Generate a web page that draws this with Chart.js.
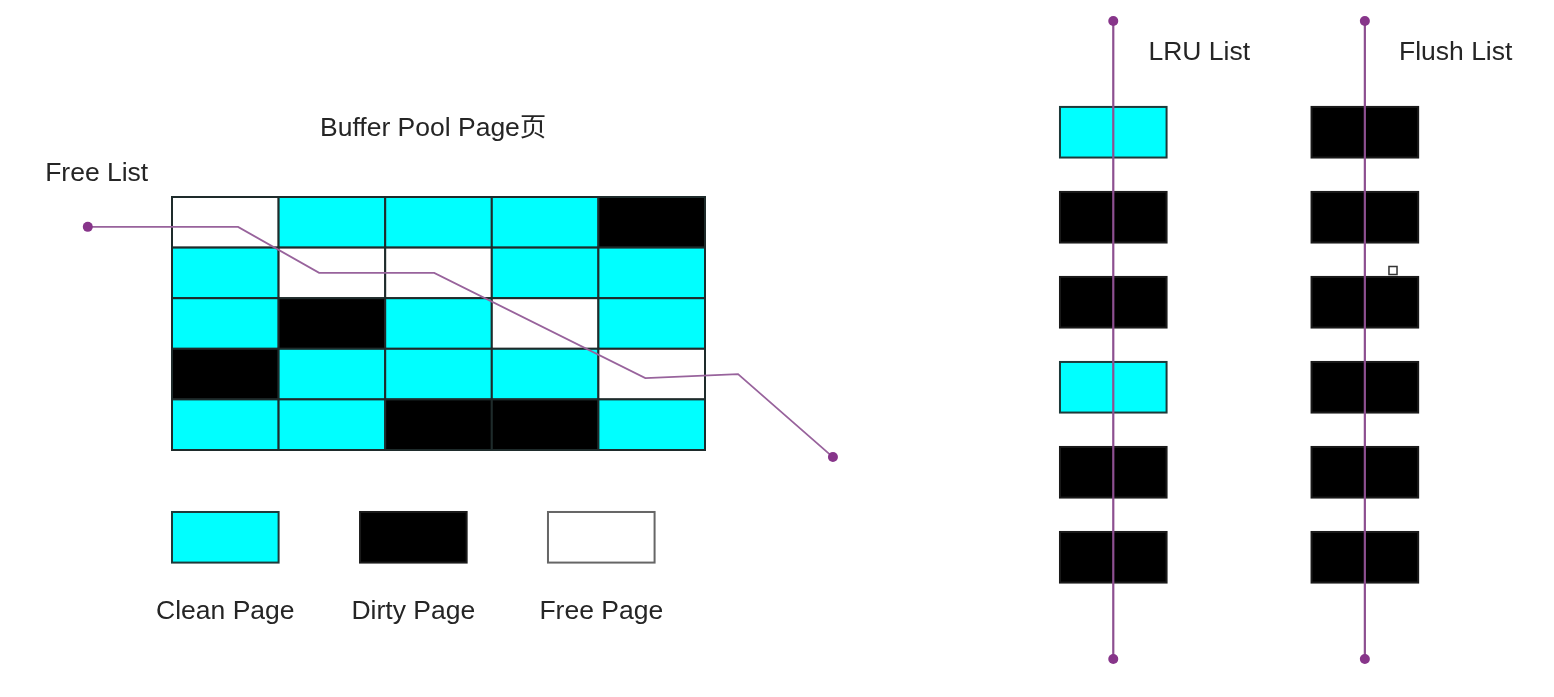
<!DOCTYPE html>
<html>
<head>
<meta charset="utf-8">
<script src="https://cdn.jsdelivr.net/npm/chart.js@4/dist/chart.umd.min.js"></script>
<style>
html,body{margin:0;padding:0;background:#fff}
#wrap{width:1554px;height:697px;position:relative}
</style>
</head>
<body>
<div id="wrap"><canvas id="c"></canvas></div>
<script>
// buffer pool page states, row by row
const POOL = [
  ['free','clean','clean','clean','dirty'],
  ['clean','free','free','clean','clean'],
  ['clean','dirty','clean','free','clean'],
  ['dirty','clean','clean','clean','free'],
  ['clean','clean','dirty','dirty','clean']
];
const LRU_LIST = ['clean','dirty','dirty','clean','dirty','dirty'];
const FLUSH_LIST = ['dirty','dirty','dirty','dirty','dirty','dirty'];
const LEGEND_KEYS = ['clean','dirty','free'];
const LEGEND_LABELS = ['Clean Page','Dirty Page','Free Page'];
// free list path in page-grid units (column, row)
const FREE_X = [-0.79,0.62,1.38,2.46,4.44,5.31,6.20];
const FREE_Y = [0.59,0.59,1.50,1.50,3.58,3.50,5.14];
const MARK_X = [11.454];
const MARK_Y = [1.453];

// layout (grid units, one page = one unit)
const CELL_W = 106.6, CELL_H = 50.6, ORIGIN_X = 172, ORIGIN_Y = 197;
const LIST_COLS = [8.33, 10.69];
const LIST_TOP = -1.78, LIST_STEP = 1.68, LIST_ENDS = [-3.48, 9.13];
const LEGEND_COLS = [0, 1.764, 3.527], LEGEND_ROW = 6.225, LEGEND_TEXT_ROW = 8.19;

const FILL = {clean:'#00ffff', dirty:'#000000', free:'#ffffff'};
const EDGE = {clean:'#1d3a3a', dirty:'#1a1a1a', free:'#333333'};
const FONT = '26.5px "Liberation Sans", Arial, "Noto Sans CJK SC", sans-serif';
const INK = '#252525';

function box(ctx, s, col, row, key, edge){
  const x0 = s.x.getPixelForValue(col), x1 = s.x.getPixelForValue(col+1);
  const y0 = s.y.getPixelForValue(row), y1 = s.y.getPixelForValue(row+1);
  ctx.fillStyle = FILL[key];
  ctx.fillRect(x0, y0, x1-x0, y1-y0);
  ctx.lineWidth = 2;
  ctx.strokeStyle = edge || EDGE[key];
  ctx.strokeRect(x0, y0, x1-x0, y1-y0);
}

function label(ctx, s, text, col, row, align){
  ctx.font = FONT;
  ctx.fillStyle = INK;
  ctx.textAlign = align;
  ctx.textBaseline = 'middle';
  ctx.fillText(text, s.x.getPixelForValue(col), s.y.getPixelForValue(row));
}

const pagesPlugin = {
  id:'pages',
  beforeDatasetsDraw(chart){
    const ctx = chart.ctx, s = chart.scales;
    ctx.save();
    POOL.forEach((r,ri)=>r.forEach((k,ci)=>box(ctx, s, ci, ri, k, '#1e2b2b')));
    [LRU_LIST, FLUSH_LIST].forEach((list,li)=>{
      list.forEach((k,i)=>box(ctx, s, LIST_COLS[li], LIST_TOP + i*LIST_STEP, k));
    });
    LEGEND_KEYS.forEach((k,i)=>box(ctx, s, LEGEND_COLS[i], LEGEND_ROW, k, k==='free'?'#666':null));
    ctx.restore();
  },
  afterDraw(chart){
    const ctx = chart.ctx, s = chart.scales;
    ctx.save();
    label(ctx, s, 'Free List', -1.19, -0.47, 'left');
    label(ctx, s, 'Buffer Pool Page页', 2.45, -1.35, 'center');
    label(ctx, s, 'LRU List', 9.16, -2.85, 'left');
    label(ctx, s, 'Flush List', 11.51, -2.85, 'left');
    LEGEND_LABELS.forEach((t,i)=>label(ctx, s, t, LEGEND_COLS[i]+0.5, LEGEND_TEXT_ROW, 'center'));
    ctx.restore();
  }
};

const endDots = c => (c.dataIndex===0 || c.dataIndex===c.dataset.data.length-1) ? 5 : 0;

function listLine(col){
  return {
    data: LIST_ENDS.map(y=>({x:col+0.5, y})),
    showLine:true, borderColor:'#8d4f90', borderWidth:2.2,
    pointRadius:5, pointBackgroundColor:'#87358a', pointBorderWidth:0
  };
}

new Chart(document.getElementById('c'), {
  type:'scatter',
  data:{
    datasets:[
      {
        data: FREE_X.map((x,i)=>({x, y:FREE_Y[i]})),
        showLine:true, borderColor:'#98639c', borderWidth:1.8,
        pointRadius:endDots, pointBackgroundColor:'#87358a', pointBorderWidth:0
      },
      listLine(LIST_COLS[0]),
      listLine(LIST_COLS[1]),
      {
        data: MARK_X.map((x,i)=>({x, y:MARK_Y[i]})),
        pointStyle:'rect', pointRadius:5.7, pointBackgroundColor:'#fff',
        pointBorderColor:'#333', pointBorderWidth:1.5
      }
    ]
  },
  options:{
    responsive:true, maintainAspectRatio:false, animation:false,
    layout:{padding:0, autoPadding:false},
    plugins:{legend:{display:false}, tooltip:{enabled:false}},
    events:[],
    scales:{
      x:{type:'linear', display:false, min:-ORIGIN_X/CELL_W, max:(1554-ORIGIN_X)/CELL_W},
      y:{type:'linear', display:false, reverse:true, min:-ORIGIN_Y/CELL_H, max:(697-ORIGIN_Y)/CELL_H}
    }
  },
  plugins:[pagesPlugin]
});
</script>
</body>
</html>
